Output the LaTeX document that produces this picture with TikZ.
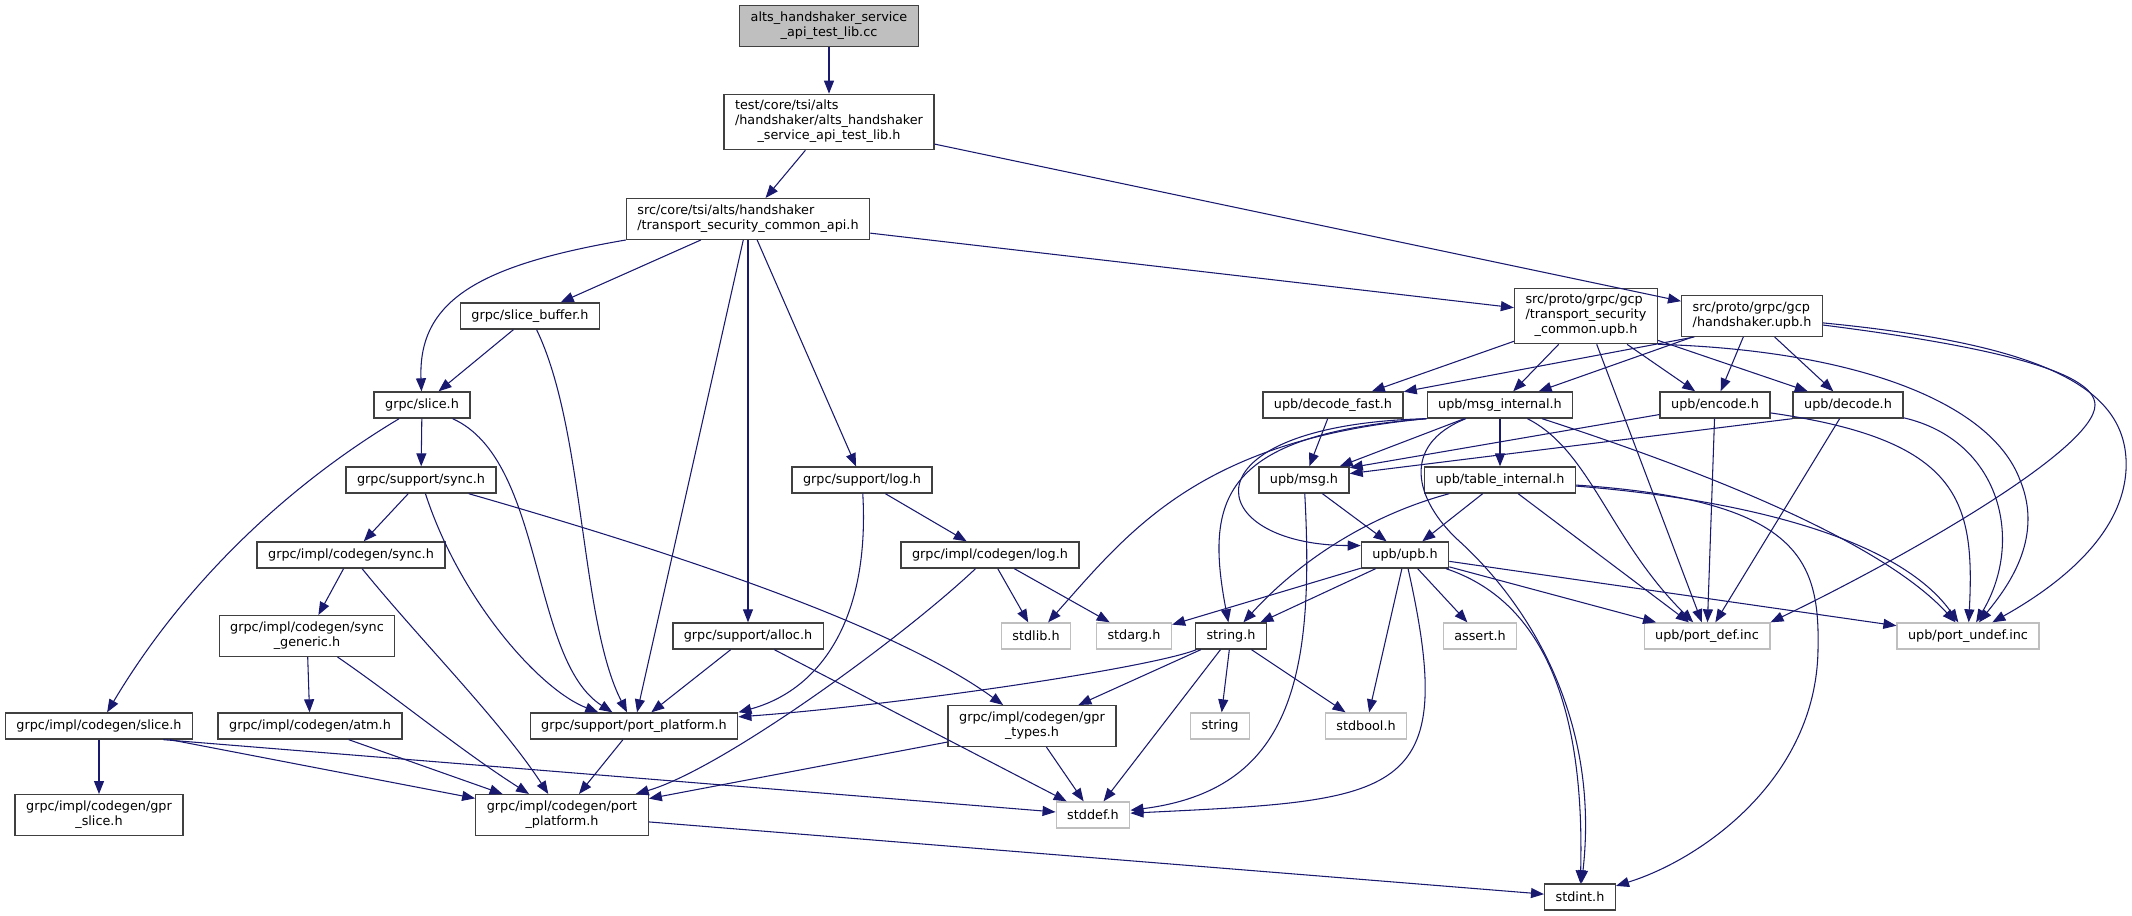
\documentclass[tikz,border=0pt]{standalone}
\usepackage{fontspec}
\setmainfont{DejaVu Sans}
\usetikzlibrary{arrows.meta}
\definecolor{edgeblue}{HTML}{191970}
\definecolor{boxgrey}{HTML}{404040}
\definecolor{sysgrey}{HTML}{BFBFBF}
\newcommand{\lastline}[1]{\multicolumn{1}{@{}c@{}}{#1}}

\begin{document}
\begin{tikzpicture}[x=0.75pt,y=-0.75pt,
  file/.style={draw=boxgrey,line width=1pt,fill=white,inner xsep=8.25pt,inner ysep=1pt,
    minimum height=19.5pt,font=\fontsize{9.6}{11.25}\selectfont},
  two/.style={minimum height=30.5pt},
  three/.style={minimum height=41.5pt},
  sysfile/.style={file,draw=sysgrey},
  root/.style={file,fill=sysgrey},
  inc/.style={draw=edgeblue,line width=0.8pt,-{Triangle[length=9.75pt,width=7.5pt]}}]
\useasboundingbox (0,0) rectangle (2132,916);

% files
\node[root,two,align=center] (cc) at (829,26) {alts\_handshaker\_service\\\_api\_test\_lib.cc};
\node[file,three] (test) at (829,122) {\begin{tabular}{@{}l@{}}test/core/tsi/alts\\/handshaker/alts\_handshaker\\\lastline{\_service\_api\_test\_lib.h}\end{tabular}};
\node[file,two,align=left] (capi) at (748,219) {src/core/tsi/alts/handshaker\\/transport\_security\_common\_api.h};
\node[file,three] (tscupb) at (1586,316) {\begin{tabular}{@{}l@{}}src/proto/grpc/gcp\\/transport\_security\\\lastline{\_common.upb.h}\end{tabular}};
\node[file,two,align=left] (hsupb) at (1752,316) {src/proto/grpc/gcp\\/handshaker.upb.h};
\node[file] (slicebuf) at (530,316) {grpc/slice\_buffer.h};
\node[file] (slice) at (422,405) {grpc/slice.h};
\node[file] (decfast) at (1333,405) {upb/decode\_fast.h};
\node[file] (msgint) at (1500,405) {upb/msg\_internal.h};
\node[file] (encode) at (1715,405) {upb/encode.h};
\node[file] (decode) at (1848,405) {upb/decode.h};
\node[file] (ssync) at (421,480) {grpc/support/sync.h};
\node[file] (slog) at (862,480) {grpc/support/log.h};
\node[file] (msg) at (1304,480) {upb/msg.h};
\node[file] (tabint) at (1500,480) {upb/table\_internal.h};
\node[file] (csync) at (351,555) {grpc/impl/codegen/sync.h};
\node[file] (clog) at (990,555) {grpc/impl/codegen/log.h};
\node[file] (upb) at (1405,555) {upb/upb.h};
\node[file,two,align=center] (syncgen) at (307,636) {grpc/impl/codegen/sync\\\_generic.h};
\node[file] (alloc) at (748,636) {grpc/support/alloc.h};
\node[sysfile] (stdlib) at (1036,636) {stdlib.h};
\node[sysfile] (stdarg) at (1134,636) {stdarg.h};
\node[file] (stringh) at (1231,636) {string.h};
\node[sysfile] (assert) at (1480,636) {assert.h};
\node[sysfile] (portdef) at (1707,636) {upb/port\_def.inc};
\node[sysfile] (portundef) at (1968,636) {upb/port\_undef.inc};
\node[file] (cslice) at (99,726) {grpc/impl/codegen/slice.h};
\node[file] (atm) at (310,726) {grpc/impl/codegen/atm.h};
\node[file] (sportpl) at (634,726) {grpc/support/port\_platform.h};
\node[file,two,align=center] (gprtypes) at (1032,726) {grpc/impl/codegen/gpr\\\_types.h};
\node[sysfile] (string) at (1220,726) {string};
\node[sysfile] (stdbool) at (1366,726) {stdbool.h};
\node[file,two,align=center] (gprslice) at (99,815) {grpc/impl/codegen/gpr\\\_slice.h};
\node[file,two,align=center] (cportpl) at (562,815) {grpc/impl/codegen/port\\\_platform.h};
\node[sysfile] (stddef) at (1093,815) {stddef.h};
\node[file] (stdint) at (1580,897) {stdint.h};

% includes, grpc side
\draw[inc] (cc) -- (test);
\draw[inc] (test) -- (capi);
\draw[inc] (test) -- (hsupb);
\draw[inc] (capi.south west) .. controls (480,265) and (418,300) .. (slice);
\draw[inc] (capi) -- (slicebuf);
\draw[inc] (capi) -- (sportpl);
\draw[inc] (capi) -- (alloc);
\draw[inc] (capi) -- (slog);
\draw[inc] (capi) -- (tscupb);
\draw[inc] (slicebuf) -- (slice);
\draw[inc] (slicebuf) .. controls (585,430) and (580,620) .. (sportpl);
\draw[inc] (slice) .. controls (280,490) and (180,590) .. (cslice);
\draw[inc] (slice) -- (ssync);
\draw[inc] (slice) .. controls (545,460) and (530,660) .. (sportpl);
\draw[inc] (ssync) -- (csync);
\draw[inc] (ssync) .. controls (460,600) and (540,690) .. (sportpl);
\draw[inc] (ssync) .. controls (700,560) and (900,630) .. (gprtypes);
\draw[inc] (csync) -- (syncgen);
\draw[inc] (csync) .. controls (420,640) and (500,720) .. (cportpl);
\draw[inc] (syncgen) -- (atm);
\draw[inc] (syncgen) .. controls (400,700) and (460,750) .. (cportpl);
\draw[inc] (atm) -- (cportpl);
\draw[inc] (cslice) -- (gprslice);
\draw[inc] (cslice) -- (cportpl);
\draw[inc] (cslice.348) -- (stddef);
\draw[inc] (sportpl) -- (cportpl);
\draw[inc] (alloc) -- (sportpl);
\draw[inc] (alloc) -- (stddef);
\draw[inc] (slog) -- (clog);
\draw[inc] (slog) .. controls (870,620) and (820,690) .. (sportpl.north east);
\draw[inc] (clog) .. controls (900,640) and (720,770) .. (cportpl);
\draw[inc] (clog) -- (stdlib);
\draw[inc] (clog) -- (stdarg);
\draw[inc] (gprtypes) -- (cportpl);
\draw[inc] (gprtypes) -- (stddef);
\draw[inc] (cportpl) -- (stdint);
\draw[inc] (stringh) .. controls (1150,668) and (900,705) .. (sportpl.5);
\draw[inc] (stringh) -- (gprtypes);
\draw[inc] (stringh) -- (string);
\draw[inc] (stringh) -- (stdbool);
\draw[inc] (stringh) -- (stddef);

% includes, upb side
\draw[inc] (tscupb) -- (decfast);
\draw[inc] (tscupb) -- (msgint);
\draw[inc] (tscupb) -- (portdef);
\draw[inc] (tscupb) -- (encode);
\draw[inc] (tscupb) -- (decode);
\draw[inc] (tscupb.south east) .. controls (1850,350) and (1990,400) .. (2020,480)
  .. controls (2045,540) and (2005,590) .. (portundef);
\draw[inc] (hsupb.200) -- (decfast);
\draw[inc] (hsupb) -- (msgint);
\draw[inc] (hsupb) -- (encode);
\draw[inc] (hsupb) -- (decode);
\draw[inc] (hsupb) .. controls (1980,345) and (2095,370) .. (2095,405)
  .. controls (2095,450) and (1900,560) .. (portdef.north east);
\draw[inc] (hsupb) .. controls (2050,345) and (2130,390) .. (2126,470)
  .. controls (2122,540) and (2050,590) .. (portundef);
\draw[inc] (decfast) -- (msg);
\draw[inc] (msgint) -- (msg);
\draw[inc] (msgint) -- (tabint);
\draw[inc] (msgint.south west) .. controls (1180,425) and (1200,545) .. (upb.168);
\draw[inc] (msgint.south west) .. controls (1200,440) and (1130,530) .. (stdlib);
\draw[inc] (msgint.south west) .. controls (1220,435) and (1205,500) .. (stringh);
\draw[inc] (msgint) .. controls (1400,445) and (1415,500) .. (1458,540)
  .. controls (1530,605) and (1600,720) .. (stdint);
\draw[inc] (msgint) .. controls (1590,450) and (1610,540) .. (portdef);
\draw[inc] (msgint) .. controls (1700,470) and (1880,540) .. (portundef);
\draw[inc] (encode) -- (msg.15);
\draw[inc] (encode) -- (portdef);
\draw[inc] (encode) .. controls (1960,440) and (1975,500) .. (portundef);
\draw[inc] (decode.south west) -- (msg.8);
\draw[inc] (decode) -- (portdef);
\draw[inc] (decode) .. controls (2000,440) and (2025,540) .. (portundef);
\draw[inc] (tabint) -- (upb);
\draw[inc] (tabint) .. controls (1370,515) and (1300,560) .. (stringh);
\draw[inc] (tabint) -- (portdef);
\draw[inc] (tabint) .. controls (1750,500) and (1900,540) .. (portundef);
\draw[inc] (tabint) .. controls (1800,500) and (1820,560) .. (1818,650)
  .. controls (1816,780) and (1700,860) .. (stdint);
\draw[inc] (msg) -- (upb);
\draw[inc] (msg) .. controls (1315,680) and (1290,790) .. (stddef);
\draw[inc] (upb) -- (stdarg);
\draw[inc] (upb) -- (stringh);
\draw[inc] (upb) -- (stdbool);
\draw[inc] (upb) .. controls (1460,800) and (1400,800) .. (stddef);
\draw[inc] (upb) -- (assert);
\draw[inc] (upb) .. controls (1540,600) and (1585,700) .. (stdint);
\draw[inc] (upb) -- (portdef);
\draw[inc] (upb) -- (portundef);
\end{tikzpicture}
\end{document}
